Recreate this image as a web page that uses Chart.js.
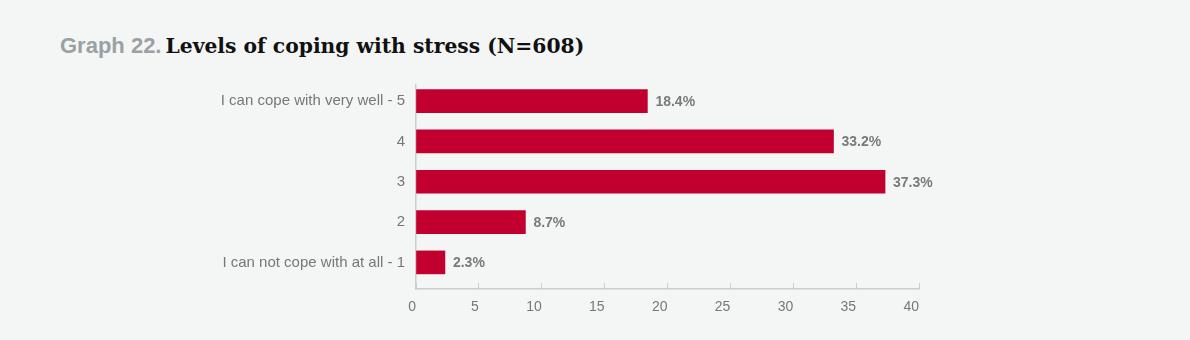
<!DOCTYPE html>
<html>
<head>
<meta charset="utf-8">
<script src="https://cdn.jsdelivr.net/npm/chart.js@4"></script>
<style>
    html, body { margin: 0; padding: 0; background: #f4f6f5; }
    .page { position: relative; width: 1190px; height: 340px; overflow: hidden; }
    .title { position: absolute; left: 60px; top: 33px; white-space: nowrap; line-height: 28px; }
    .title .num { font: bold 22px "Liberation Sans", Arial, sans-serif; color: #9aa1a4; }
    .title .txt { font: bold 20.3px "DejaVu Serif", serif; color: #111; margin-left: 4px; }
    .chart-box { position: absolute; left: 0; top: 0; width: 1190px; height: 340px; }
</style>
</head>
<body>
<div class="page">
    <div class="title"><span class="num">Graph 22.</span><span class="txt">Levels of coping with stress (N=608)</span></div>
    <div class="chart-box"><canvas id="stressChart"></canvas></div>
</div>
<script>
/* ================================
   Data
================================ */
const categories = [
    "I can cope with very well - 5",
    "4",
    "3",
    "2",
    "I can not cope with at all - 1"
];
const percentages = [18.4, 33.2, 37.3, 8.7, 2.3];
const xTicks = [0, 5, 10, 15, 20, 25, 30, 35, 40];

/* ================================
   Value labels next to bars
================================ */
const valueLabels = {
    id: "valueLabels",
    afterDatasetsDraw(chart) {
        const ctx = chart.ctx;
        const meta = chart.getDatasetMeta(0);
        ctx.save();
        ctx.font = "bold 14px 'Liberation Sans', Arial, sans-serif";
        ctx.fillStyle = "#7a7a7a";
        ctx.textAlign = "left";
        ctx.textBaseline = "middle";
        meta.data.forEach((bar, i) => {
            ctx.fillText(percentages[i].toFixed(1) + "%", bar.x + 8, bar.y + 1);
        });
        ctx.restore();
    }
};

/* ================================
   Chart
================================ */
function renderChart() {
    const canvas = document.getElementById("stressChart");

    new Chart(canvas, {
        type: "bar",
        data: {
            datasets: [{
                data: percentages.map((v, i) => ({ x: v, y: i })),
                backgroundColor: "#c20030",
                borderWidth: 0,
                barThickness: 23
            }]
        },
        options: {
            indexAxis: "y",
            responsive: true,
            maintainAspectRatio: false,
            animation: false,
            layout: { padding: { top: 85, right: 271, bottom: 21, left: 0 } },
            plugins: {
                legend: { display: false },
                tooltip: { enabled: false }
            },
            scales: {
                x: {
                    type: "linear",
                    min: 0,
                    max: 40,
                    afterBuildTicks: scale => { scale.ticks = xTicks.map(v => ({ value: v })); },
                    afterFit: scale => { scale.height = 30; },
                    grid: {
                        drawOnChartArea: false,
                        drawTicks: true,
                        tickLength: -6,
                        color: "#c9ced1",
                        lineWidth: 1
                    },
                    border: { display: true, color: "#c9ced1", width: 1.5 },
                    ticks: {
                        align: "end",
                        padding: 16,
                        color: "#777",
                        font: { family: "'Liberation Sans', Arial, sans-serif", size: 14 }
                    }
                },
                y: {
                    type: "linear",
                    reverse: true,
                    offset: false,
                    min: -0.4,
                    max: 4.66,
                    afterBuildTicks: scale => { scale.ticks = categories.map((c, i) => ({ value: i })); },
                    afterFit: scale => { scale.width = 416; },
                    grid: { display: false, drawTicks: false, offset: false },
                    border: { display: true, color: "#c9ced1", width: 1.5 },
                    ticks: {
                        padding: 11,
                        color: "#777",
                        font: { family: "'Liberation Sans', Arial, sans-serif", size: 15 },
                        callback: value => categories[value]
                    }
                }
            }
        },
        plugins: [valueLabels]
    });
}

document.addEventListener("DOMContentLoaded", renderChart);
</script>
</body>
</html>
